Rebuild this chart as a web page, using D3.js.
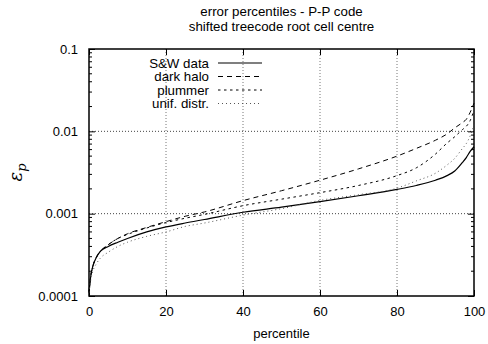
<!DOCTYPE html>
<html>
<head>
<meta charset="utf-8">
<script src="https://cdn.jsdelivr.net/npm/d3@7"></script>
<style>
  body { margin: 0; background: #fff; }
  svg { font-family: "Liberation Sans", Arial, sans-serif; }
</style>
</head>
<body>
<svg id="chart" width="488" height="344"></svg>
<script>
// percentiles et erreurs relatives
const percentiles = [0, 0.5, 1, 2, 3, 5, 7.5, 10, 15, 20, 25, 30, 40, 50, 60, 70, 80, 85, 90, 93, 95, 97, 98, 99, 100];
const swData = [0.00011, 0.00018, 0.00023, 0.0003, 0.00035, 0.0004, 0.00045, 0.0005, 0.0006, 0.00069, 0.00077, 0.00085, 0.00104, 0.0012, 0.0014, 0.00165, 0.00197, 0.0022, 0.00255, 0.0029, 0.0033, 0.0042, 0.0048, 0.0057, 0.0065];
const darkHalo = [0.00011, 0.00018, 0.00023, 0.0003, 0.00035, 0.00042, 0.0005, 0.00057, 0.00068, 0.0008, 0.00093, 0.00105, 0.00144, 0.0019, 0.00255, 0.0035, 0.005, 0.0062, 0.0078, 0.0093, 0.011, 0.0128, 0.014, 0.017, 0.022];
const plummer = [0.00011, 0.00018, 0.00023, 0.0003, 0.00035, 0.00042, 0.0005, 0.00056, 0.00067, 0.00078, 0.00088, 0.00098, 0.00125, 0.0015, 0.0018, 0.0022, 0.0029, 0.0036, 0.0053, 0.0072, 0.0086, 0.0105, 0.0115, 0.0135, 0.018];
const unif = [0.00011, 0.00016, 0.0002, 0.00025, 0.00029, 0.00034, 0.0004, 0.00045, 0.00053, 0.0006, 0.0007, 0.00077, 0.00096, 0.00115, 0.00145, 0.0017, 0.00204, 0.0025, 0.0031, 0.0039, 0.0047, 0.0062, 0.0071, 0.0088, 0.012];

const seriesNames = ["S&W data", "dark halo", "plummer", "unif. distr."];
const xTicks = [0, 20, 40, 60, 80, 100];
const yTicks = [0.0001, 0.001, 0.01, 0.1];
const yTickLabels = ["0.0001", "0.001", "0.01", "0.1"];

const margin = { top: 49, right: 14, bottom: 48, left: 89 },
    width = 488 - margin.left - margin.right,
    height = 344 - margin.top - margin.bottom;

const svg = d3.select("#chart");
const g = svg.append("g").attr("transform", `translate(${margin.left},${margin.top})`);

const x = d3.scaleLinear().domain([0, 100]).range([0, width]);
const y = d3.scaleLog().domain([0.0001, 0.1]).range([height, 0]);

// Titre
svg.append("text")
    .attr("x", margin.left + width / 2)
    .attr("y", 16)
    .attr("text-anchor", "middle")
    .attr("font-size", 13.3)
    .text("error percentiles - P-P code");
svg.append("text")
    .attr("x", margin.left + width / 2)
    .attr("y", 31)
    .attr("text-anchor", "middle")
    .attr("font-size", 13.3)
    .text("shifted treecode root cell centre");

// grille
g.selectAll(".gx")
    .data(xTicks.slice(1, -1))
    .enter().append("line")
    .attr("x1", d => x(d)).attr("x2", d => x(d))
    .attr("y1", 0).attr("y2", height)
    .attr("stroke", "#777").attr("stroke-dasharray", "1,2");
g.selectAll(".gy")
    .data(yTicks.slice(1, -1))
    .enter().append("line")
    .attr("x1", 0).attr("x2", width)
    .attr("y1", d => y(d)).attr("y2", d => y(d))
    .attr("stroke", "#444").attr("stroke-dasharray", "1,2");

// ticks mineurs (log)
const minor = [];
for (let e = -4; e < -1; e++) {
    for (let k = 2; k <= 9; k++) minor.push(k * Math.pow(10, e));
}
g.selectAll(".minL").data(minor).enter().append("line")
    .attr("x1", 0).attr("x2", 3)
    .attr("y1", d => y(d)).attr("y2", d => y(d))
    .attr("stroke", "#000");
g.selectAll(".minR").data(minor).enter().append("line")
    .attr("x1", width - 3).attr("x2", width)
    .attr("y1", d => y(d)).attr("y2", d => y(d))
    .attr("stroke", "#000");

// Axes (ticks vers l'intérieur)
g.append("g")
    .attr("transform", `translate(0,${height})`)
    .call(d3.axisBottom(x).tickValues(xTicks).tickSize(-6).tickPadding(11))
    .call(a => a.select(".domain").remove());
g.append("g")
    .call(d3.axisTop(x).tickValues(xTicks).tickSize(-6).tickFormat(""))
    .call(a => a.select(".domain").remove());
g.append("g")
    .call(d3.axisLeft(y).tickValues(yTicks).tickSize(-6).tickPadding(11)
        .tickFormat((d, i) => yTickLabels[i]))
    .call(a => a.select(".domain").remove());
g.append("g")
    .attr("transform", `translate(${width},0)`)
    .call(d3.axisRight(y).tickValues(yTicks).tickSize(-6).tickFormat(""))
    .call(a => a.select(".domain").remove());
g.selectAll(".tick text")
    .attr("font-size", 13)
    .attr("font-family", "Liberation Sans, Arial, sans-serif")
    .attr("fill", "#000");

g.append("rect")
    .attr("width", width).attr("height", height)
    .attr("fill", "none").attr("stroke", "#000").attr("stroke-width", 1.5);

// labels
g.append("text")
    .attr("x", width / 2)
    .attr("y", height + 42)
    .attr("text-anchor", "middle")
    .attr("font-size", 13)
    .text("percentile");

const yl = svg.append("text")
    .attr("transform", `translate(22,${margin.top + height / 2}) rotate(-90)`)
    .attr("text-anchor", "middle")
    .attr("font-family", "DejaVu Serif, serif")
    .attr("font-style", "italic")
    .attr("font-size", 18);
yl.append("tspan").text("ε");
yl.append("tspan").attr("font-size", 13).attr("dy", 4).text("p");

// courbes
const styles = [
    { data: swData, dash: null, color: "#000", w: 1.2 },
    { data: darkHalo, dash: "5,4", color: "#000", w: 1 },
    { data: plummer, dash: "2.5,3.5", color: "#000", w: 1 },
    { data: unif, dash: "1,3", color: "#555", w: 1 }
];

const line = d3.line()
    .x((d, i) => x(percentiles[i]))
    .y(d => y(d))
    .curve(d3.curveMonotoneX);

styles.forEach(s => {
    g.append("path")
        .datum(s.data)
        .attr("d", line)
        .attr("fill", "none")
        .attr("stroke", s.color)
        .attr("stroke-width", s.w)
        .attr("stroke-dasharray", s.dash);
});

// Légende
styles.forEach((s, i) => {
    const ly = 14 + i * 13.5;
    g.append("text")
        .attr("x", 120)
        .attr("y", ly + 4.5)
        .attr("text-anchor", "end")
        .attr("font-size", 13.3)
        .text(seriesNames[i]);
    g.append("line")
        .attr("x1", 129).attr("x2", 173)
        .attr("y1", ly).attr("y2", ly)
        .attr("stroke", s.color)
        .attr("stroke-width", s.w)
        .attr("stroke-dasharray", s.dash);
});
</script>
</body>
</html>
